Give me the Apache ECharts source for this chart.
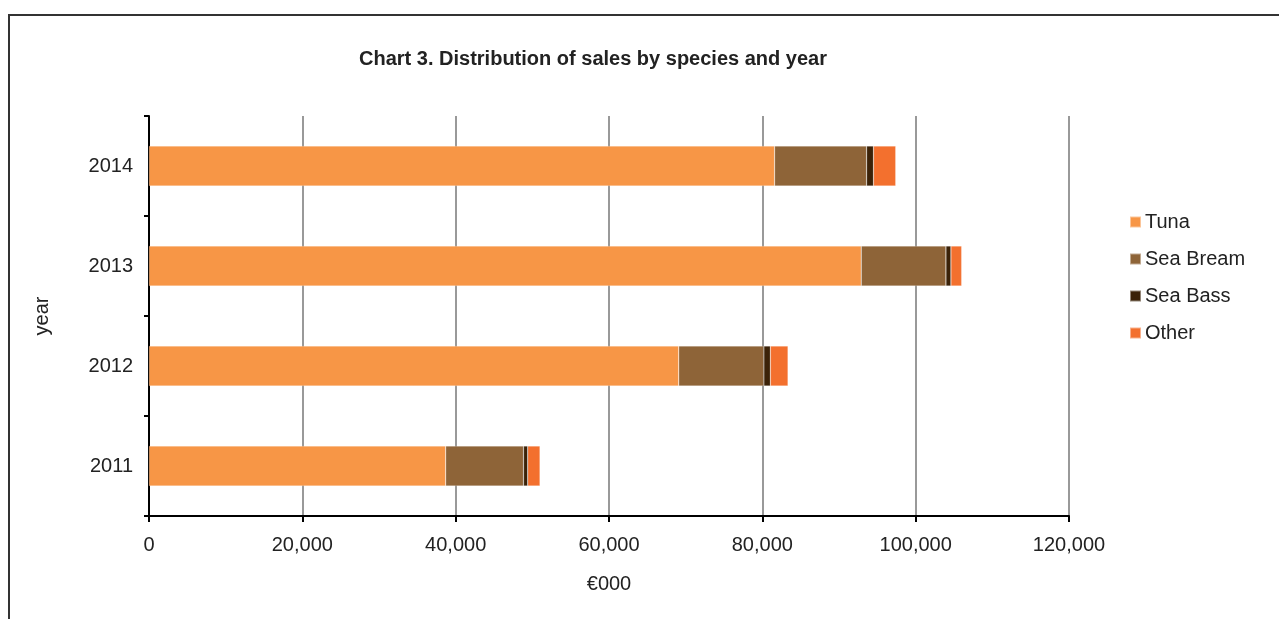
<!DOCTYPE html>
<html>
<head>
<meta charset="utf-8">
<script src="https://cdn.jsdelivr.net/npm/echarts@6/dist/echarts.min.js"></script>
<style>
  html, body { margin: 0; padding: 0; background: #fff; }
  #frame { position: absolute; left: 8px; top: 14px; width: 1290px; height: 640px; border: 2px solid #333; box-sizing: border-box; }
  #chart { position: absolute; left: 0; top: 0; width: 1279px; height: 619px; }
</style>
</head>
<body>
<div id="frame"></div>
<div id="chart"></div>
<script>
// Sales by species and year, in thousands of euro
const years = ['2011', '2012', '2013', '2014'];
const tuna = [38700, 69100, 92900, 81600];
const seaBream = [10150, 11100, 11050, 12000];
const seaBass = [550, 850, 650, 900];
const other = [1600, 2300, 1400, 2900];
const xTicks = [0, 20000, 40000, 60000, 80000, 100000, 120000];

const font = 'Liberation Sans, Arial, sans-serif';
const chart = echarts.init(document.getElementById('chart'));

function bar(name, data, color) {
  return {
    name: name,
    type: 'bar',
    stack: 'sales',
    data: data,
    barCategoryGap: '60%',
    itemStyle: { color: color, borderColor: 'rgba(255,255,255,0.45)', borderWidth: 0.5 },
    emphasis: { disabled: true }
  };
}

chart.setOption({
  animation: false,
  title: {
    text: 'Chart 3. Distribution of sales by species and year',
    left: 588, top: 44, textAlign: 'center',
    textStyle: { fontFamily: font, fontSize: 20, fontWeight: 'bold', color: '#222' }
  },
  legend: {
    orient: 'vertical',
    left: 1124, top: 207,
    itemWidth: 11, itemHeight: 11, itemGap: 17,
    icon: 'rect',
    textStyle: { fontFamily: font, fontSize: 20, color: '#222', padding: [0, 0, 0, -1] },
    data: ['Tuna', 'Sea Bream', 'Sea Bass', 'Other']
  },
  grid: { left: 149, right: 210, top: 116, bottom: 103, containLabel: false },
  xAxis: {
    type: 'value',
    min: xTicks[0], max: xTicks[xTicks.length - 1], interval: 20000,
    name: '€000', nameLocation: 'middle', nameGap: 58,
    nameTextStyle: { fontFamily: font, fontSize: 20, color: '#222' },
    axisLine: { show: true, lineStyle: { color: '#000', width: 2 } },
    axisTick: { show: true, length: 6, lineStyle: { color: '#000', width: 2 } },
    axisLabel: {
      fontFamily: font, fontSize: 20, color: '#222', margin: 19,
      formatter: v => v.toLocaleString('en-US')
    },
    splitLine: { show: true, lineStyle: { color: '#999', width: 2 } }
  },
  yAxis: {
    type: 'category',
    data: years,
    name: 'year', nameLocation: 'middle', nameGap: 97, nameRotate: 90,
    nameTextStyle: { fontFamily: font, fontSize: 20, color: '#222' },
    axisLine: { lineStyle: { color: '#000', width: 2 } },
    axisTick: { show: true, length: 5, lineStyle: { color: '#000', width: 2 } },
    axisLabel: { fontFamily: font, fontSize: 20, color: '#222', margin: 16 }
  },
  series: [
    bar('Tuna', tuna, '#F79646'),
    bar('Sea Bream', seaBream, '#8E6438'),
    bar('Sea Bass', seaBass, '#3B2208'),
    bar('Other', other, '#F3702E')
  ]
});
</script>
</body>
</html>
